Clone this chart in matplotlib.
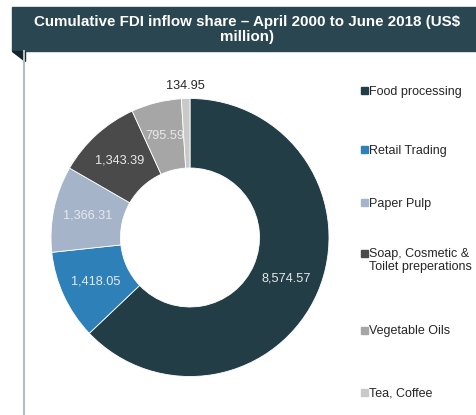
import matplotlib
matplotlib.use("Agg")
import matplotlib.pyplot as plt
from matplotlib.patches import Rectangle, Polygon
from matplotlib.lines import Line2D
import numpy as np

categories = ["Food processing", "Retail Trading", "Paper Pulp",
              "Soap, Cosmetic &\nToilet preperations", "Vegetable Oils", "Tea, Coffee"]
values = [8574.57, 1418.05, 1366.31, 1343.39, 795.59, 134.95]
value_labels = ["8,574.57", "1,418.05", "1,366.31", "1,343.39", "795.59", "134.95"]
colors = ["#223d45", "#2e80b9", "#a5b4c8", "#4a4a4a", "#a6a6a6", "#c9c9c9"]
title = "Cumulative FDI inflow share \u2013 April 2000 to June 2018 (US$\nmillion)"

plt.rcParams['font.family'] = ['Liberation Sans', 'DejaVu Sans']

W, H = 477, 415
fig = plt.figure(figsize=(W / 100, H / 100), dpi=100)

def fx(x): return x / W
def fy(y): return 1 - y / H

# Title banner
fig.patches.append(Rectangle((fx(12), fy(51)), fx(477) - fx(12), fy(7) - fy(51),
                             transform=fig.transFigure, color="#2a4650", zorder=0))
fig.patches.append(Polygon([(fx(12), fy(51)), (fx(25), fy(51)), (fx(25), fy(61))],
                           closed=True, transform=fig.transFigure, color="#15252b", zorder=0))
fig.lines.append(Line2D([fx(24.5), fx(24.5)], [fy(51), fy(415)], transform=fig.transFigure,
                        color="#b3bec2", lw=1.5))
fig.text(fx(247), fy(29.5), title, ha="center", va="center", color="white",
         fontsize=10.9, fontweight="bold", linespacing=1.12)

# Donut
cx, cy, r = 190, 237.5, 139
ax = fig.add_axes([fx(cx - r), fy(cy + r), (2 * r) / W, (2 * r) / H])
wedges, _ = ax.pie(values, colors=colors, startangle=90, counterclock=False,
                   wedgeprops=dict(width=0.5, edgecolor="white", linewidth=0.6))
ax.set_xlim(-1, 1)
ax.set_ylim(-1, 1)
ax.set_aspect("equal")
ax.axis("off")

for i, (w, lab) in enumerate(zip(wedges, value_labels)):
    ang = np.deg2rad((w.theta1 + w.theta2) / 2)
    if i == len(values) - 1:
        rr, col = 1.09, "#262626"
    else:
        rr, col = 0.75, "#e6e9eb"
    ax.text(rr * np.cos(ang), rr * np.sin(ang), lab, ha="center", va="center",
            color=col, fontsize=9.2)

# Legend (y of first text line for each entry)
leg_y = [91, 150, 203, 253, 330, 392]
for cat, c, y in zip(categories, colors, leg_y):
    fig.patches.append(Rectangle((fx(361), fy(y + 3.5)), fx(7), fy(0) - fy(7),
                                 transform=fig.transFigure, color=c))
    fig.text(fx(369), fy(y - 5), cat, ha="left", va="top", color="#262626",
             fontsize=9, linespacing=1.1)

fig.savefig("out.png", dpi=100)
